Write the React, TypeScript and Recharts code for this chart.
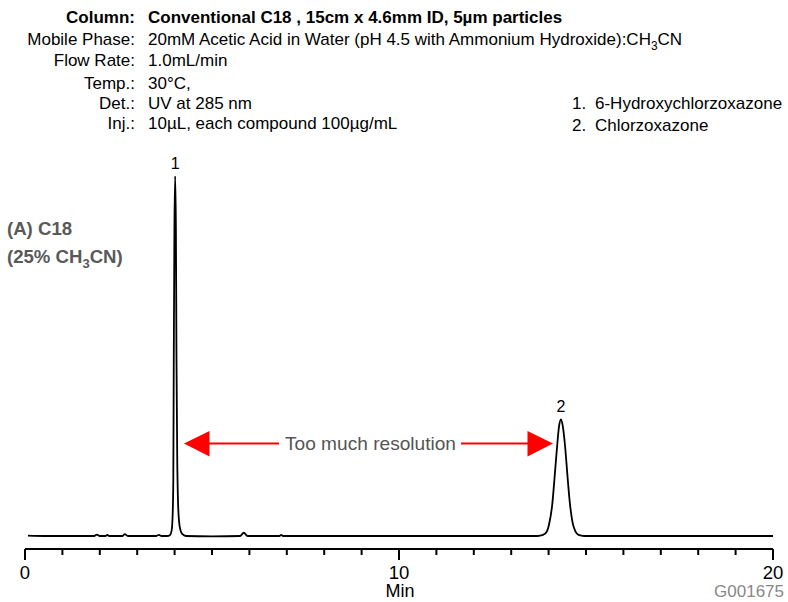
import React from 'react'
import { LineChart, Line, XAxis, YAxis, ReferenceDot } from 'recharts'

// chromatogram trace (time in min, detector signal in % of peak 1)
const traceTime = [
  0.08, 0.5, 1.0, 1.5, 1.85, 1.92, 2.0, 2.15, 2.2, 2.25, 2.6, 2.67, 2.75, 3.5, 3.58, 3.65,
  3.8, 3.88, 3.92, 3.945, 3.965, 3.978, 3.995, 4.015, 4.035, 4.05, 4.07, 4.09, 4.12, 4.16, 4.21, 4.3,
  5.0, 5.75, 5.85, 5.95, 6.8, 6.85, 6.9, 8.0, 10.0, 12.0, 13.7,
  13.85, 13.95, 14.02, 14.1, 14.15, 14.22, 14.28, 14.33, 14.38, 14.44, 14.51, 14.57, 14.64, 14.72, 14.8, 14.95,
  16.0, 18.0, 20.0,
]
const traceSignal = [
  0.1, 0, 0, 0, 0, 0.4, 0, 0, 0.3, 0, 0, 0.5, 0, 0, 0.3, 0,
  0, 0.3, 1.5, 5, 15, 50, 85, 100, 85, 50, 22, 10, 4, 1.5, 0.5, 0,
  -0.1, 0, 0.9, 0, 0, 0.3, 0, 0, 0, 0, 0,
  0.3, 1.2, 3.6, 9, 15, 24, 30.5, 32.4, 30.5, 25, 16, 9, 3.8, 1.2, 0.3, 0,
  0, 0, 0,
]

const peakLabels = ['1', '2']
const peakTimes = [4.015, 14.33]
const peakHeights = [100, 32.4]

const xTicks = [0, 1, 2, 3, 4, 5, 6, 7, 8, 9, 10, 11, 12, 13, 14, 15, 16, 17, 18, 19, 20]
const xLabelTicks = [0, 10, 20]

const conditionLabels = ['Column:', 'Mobile Phase:', 'Flow Rate:', 'Temp.:', 'Det.:', 'Inj.:']
const conditionValues = [
  'Conventional C18 , 15cm x 4.6mm ID, 5µm particles',
  '20mM Acetic Acid in Water (pH 4.5 with Ammonium Hydroxide):CH|3|CN',
  '1.0mL/min',
  '30°C,',
  'UV at 285 nm',
  '10µL, each compound 100µg/mL',
]
const compounds = ['6-Hydroxychlorzoxazone', 'Chlorzoxazone']

const data = traceTime.map((t, i) => ({ t, signal: traceSignal[i] }))

const FONT = "'Liberation Sans', Arial, sans-serif"

function AxisTick({ x, y, payload }: { x: number; y: number; payload: { value: number } }) {
  const major = xLabelTicks.includes(payload.value)
  return (
    <g>
      <line x1={x} x2={x} y1={y} y2={y + (major ? 11 : 6)} stroke="#000" strokeWidth={2} />
      {major && (
        <text x={x} y={y + 30} textAnchor="middle" fontSize={18.5} fill="#000">
          {payload.value}
        </text>
      )}
    </g>
  )
}

// renders text with "|3|" as a subscript
function withSub(s: string, size: number) {
  const parts = s.split('|')
  return parts.map((p, i) =>
    i % 2 === 1 ? (
      <tspan key={i} fontSize={size * 0.7} dy={5}>
        {p}
      </tspan>
    ) : (
      <tspan key={i} dy={i > 0 ? -5 : 0}>
        {p}
      </tspan>
    )
  )
}

const rowY = [23, 45, 66, 89, 109, 129]
const HEAD = 17

export default function App() {
  return (
    <div
      style={{
        position: 'absolute',
        left: 0,
        top: 0,
        width: 788,
        height: 602,
        background: '#fff',
        fontFamily: FONT,
      }}
    >
      <LineChart
        width={788}
        height={602}
        data={data}
        margin={{ top: 176, right: 15, bottom: 0, left: 25 }}
      >
        <XAxis
          type="number"
          dataKey="t"
          domain={[0, 20]}
          ticks={xTicks}
          interval={0}
          height={53}
          tickSize={0}
          tickMargin={0}
          tickLine={false}
          axisLine={{ stroke: '#000', strokeWidth: 2 }}
          tick={AxisTick}
          allowDataOverflow
        />
        <YAxis hide domain={[-3.61, 100]} allowDataOverflow />
        <Line
          type="monotone"
          dataKey="signal"
          stroke="#000"
          strokeWidth={1.8}
          dot={false}
          isAnimationActive={false}
        />
        {peakLabels.map((lab, i) => (
          <ReferenceDot
            key={lab}
            x={peakTimes[i]}
            y={peakHeights[i]}
            r={1}
            ifOverflow="visible"
            shape={(p: { cx: number; cy: number }) => (
              <text x={p.cx} y={p.cy - 7} textAnchor="middle" fontSize={16} fill="#000">
                {lab}
              </text>
            )}
          />
        ))}
      </LineChart>

      <svg
        width={788}
        height={602}
        style={{ position: 'absolute', left: 0, top: 0, pointerEvents: 'none' }}
        fontFamily={FONT}
      >
        {conditionLabels.map((lab, i) => (
          <g key={lab}>
            <text
              x={135}
              y={rowY[i]}
              textAnchor="end"
              fontSize={HEAD}
              fontWeight={i === 0 ? 'bold' : 'normal'}
              fill="#000"
            >
              {lab}
            </text>
            <text x={148} y={rowY[i]} fontSize={HEAD} fontWeight={i === 0 ? 'bold' : 'normal'} fill="#000">
              {withSub(conditionValues[i], HEAD)}
            </text>
          </g>
        ))}
        {compounds.map((c, i) => (
          <g key={c}>
            <text x={572} y={109 + i * 22} fontSize={HEAD} fill="#000">
              {i + 1}.
            </text>
            <text x={595} y={109 + i * 22} fontSize={HEAD} fill="#000">
              {c}
            </text>
          </g>
        ))}

        <text x={7} y={235} fontSize={18.6} fontWeight="bold" fill="#595959">
          (A) C18
        </text>
        <text x={7} y={263} fontSize={18.6} fontWeight="bold" fill="#595959">
          {withSub('(25% CH|3|CN)', 18.6)}
        </text>

        {/* resolution arrow */}
        <polygon points="184,443.5 209.5,431 209.5,456.5" fill="#f00" />
        <line x1={209} x2={279} y1={443.5} y2={443.5} stroke="#f00" strokeWidth={2} />
        <text x={285} y={450} fontSize={19} fill="#555" textLength={171} lengthAdjust="spacingAndGlyphs">
          Too much resolution
        </text>
        <line x1={461} x2={529} y1={443.5} y2={443.5} stroke="#f00" strokeWidth={2} />
        <polygon points="553,443.5 527.5,431 527.5,456.5" fill="#f00" />

        <text x={400} y={597} textAnchor="middle" fontSize={18} fill="#000">
          Min
        </text>
        <text x={784} y={597} textAnchor="end" fontSize={17} fill="#888">
          G001675
        </text>
      </svg>
    </div>
  )
}
